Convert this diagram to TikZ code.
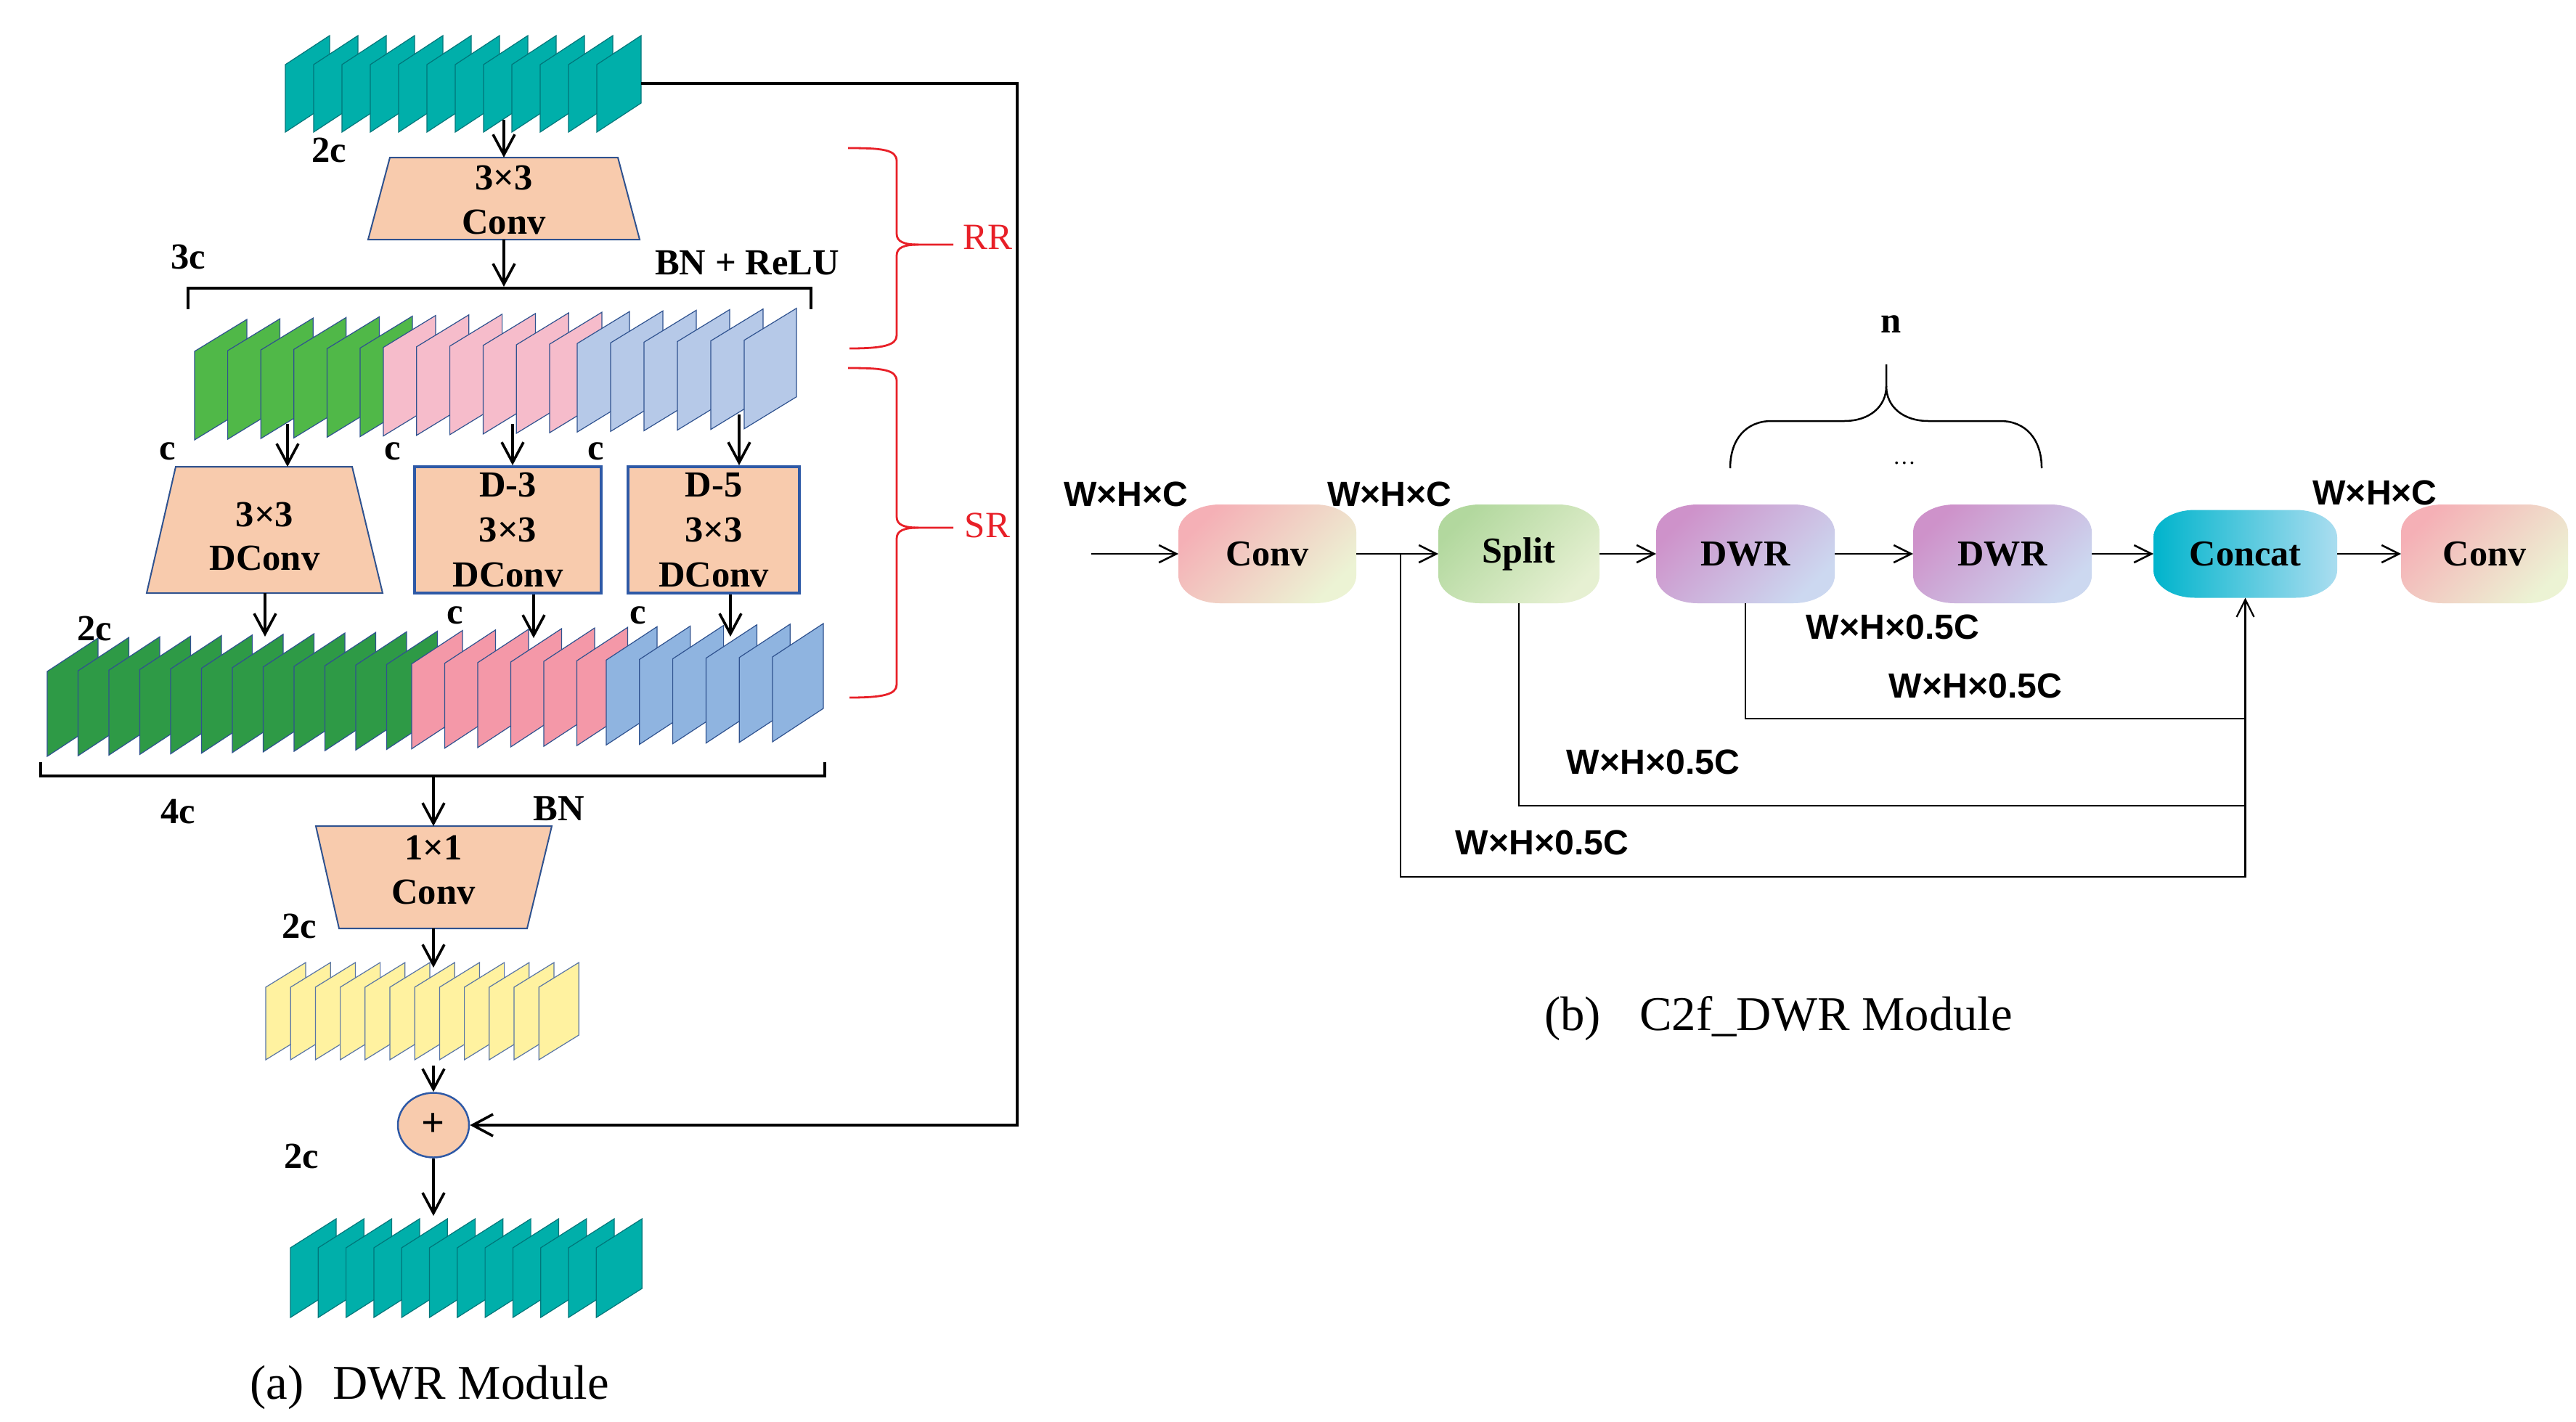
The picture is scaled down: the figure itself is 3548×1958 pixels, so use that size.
\documentclass[tikz,border=0pt]{standalone}
\usepackage{fontspec}
\setmainfont{Liberation Serif}
\newfontfamily\sansf{Liberation Sans}
\usetikzlibrary{arrows.meta,shapes.geometric}

\definecolor{peach}{RGB}{248,203,173}
\definecolor{navy}{RGB}{47,82,143}
\definecolor{boxblue}{RGB}{46,89,166}
\definecolor{tealF}{RGB}{0,175,170}
\definecolor{tealD}{RGB}{0,118,122}
\definecolor{grnA}{RGB}{80,184,72}
\definecolor{pnkA}{RGB}{246,188,203}
\definecolor{bluA}{RGB}{182,201,232}
\definecolor{grnB}{RGB}{46,154,70}
\definecolor{pnkB}{RGB}{244,152,168}
\definecolor{bluB}{RGB}{143,180,224}
\definecolor{yelF}{RGB}{255,242,160}
\definecolor{bracered}{RGB}{232,32,40}
\definecolor{cvA}{RGB}{245,176,182}
\definecolor{cvB}{RGB}{236,243,212}
\definecolor{spA}{RGB}{178,216,158}
\definecolor{spB}{RGB}{230,240,210}
\definecolor{dwA}{RGB}{206,146,202}
\definecolor{dwB}{RGB}{204,216,240}
\definecolor{caA}{RGB}{0,180,204}
\definecolor{caM}{RGB}{50,192,214}
\definecolor{caB}{RGB}{170,221,240}

\newcommand\sheetstack[9]{%
  \foreach \i in {1,...,#3} {%
    \pgfmathsetmacro\xx{#1+(\i-1)*#2}%
    \pgfmathsetmacro\yy{#4+(\i-1)*#5}%
    \path[#9] (\xx,\yy) -- ++(0,-#7) -- ++(#6,-#8) -- ++(0,#7) -- cycle;
  }}

% shaded pill with elliptical corners: cx cy halfwidth halfheight style
\newcommand\bpill[5]{%
 \shade[#5] ({#1-#3+57},{#2-#4}) -- ({#1+#3-57},{#2-#4})
   .. controls ({#1+#3-25.5},{#2-#4}) and ({#1+#3},{#2-#4+17}) .. ({#1+#3},{#2-#4+38})
   -- ({#1+#3},{#2+#4-38})
   .. controls ({#1+#3},{#2+#4-17}) and ({#1+#3-25.5},{#2+#4}) .. ({#1+#3-57},{#2+#4})
   -- ({#1-#3+57},{#2+#4})
   .. controls ({#1-#3+25.5},{#2+#4}) and ({#1-#3},{#2+#4-17}) .. ({#1-#3},{#2+#4-38})
   -- ({#1-#3},{#2-#4+38})
   .. controls ({#1-#3},{#2-#4+17}) and ({#1-#3+25.5},{#2-#4}) .. ({#1-#3+57},{#2-#4}) -- cycle;}

\tikzset{
  tealsheet/.style={fill=tealF, draw=tealD, line width=0.12mm},
  grnAs/.style={fill=grnA, draw=navy, line width=0.12mm},
  pnkAs/.style={fill=pnkA, draw=navy, line width=0.12mm},
  bluAs/.style={fill=bluA, draw=navy, line width=0.12mm},
  grnBs/.style={fill=grnB, draw=navy, line width=0.12mm},
  pnkBs/.style={fill=pnkB, draw=navy, line width=0.12mm},
  bluBs/.style={fill=bluB, draw=navy, line width=0.12mm},
  yels/.style={fill=yelF, draw=navy!80, line width=0.12mm},
  trap/.style={fill=peach, draw=navy, line width=0.2mm},
  lbl/.style={font=\fontsize{14.4}{17.2}\selectfont\bfseries, inner sep=0pt, outer sep=0pt},
  tbox/.style={inner sep=0pt, outer sep=0pt, draw=none},
  dbox/.style={fill=peach, draw=boxblue, line width=0.4mm, inner sep=0pt, align=center,
     font=\fontsize{14.4}{17.6}\selectfont\bfseries},
  arr/.style={-{Straight Barb[length=2.8mm,width=3mm]}, line width=0.36mm},
  brk/.style={line width=0.42mm},
  redbrace/.style={draw=bracered, line width=0.28mm},
  bnode/.style={minimum width=24.5mm, minimum height=13.5mm, outer sep=0pt,
     inner sep=0pt, font=\fontsize{14.3}{17}\selectfont\bfseries},
  arrb/.style={-{Straight Barb[length=2.4mm,width=2.4mm]}, line width=0.25mm},
  thinl/.style={line width=0.22mm},
  dimlbl/.style={font=\fontsize{13.7}{16}\sansf\bfseries, inner sep=0pt},
  captxt/.style={font=\fontsize{19}{22}\selectfont, inner sep=0pt}
}

\begin{document}
\begin{tikzpicture}[x=0.1mm,y=-0.1mm]
\useasboundingbox (0,0) rectangle (3548,1958);
\fill[white] (0,0) rectangle (3548,1958);

% ---------------- (a) DWR Module ----------------
% feature stacks
\sheetstack{393}{39}{12}{182}{0}{61}{93}{40}{tealsheet}
\sheetstack{268}{45.6}{6}{606}{-0.9}{72}{122}{44}{grnAs}
\sheetstack{528}{45.8}{6}{600.6}{-0.9}{72}{122}{44}{pnkAs}
\sheetstack{795}{46}{6}{595.2}{-0.9}{72}{122}{44}{bluAs}
\sheetstack{65}{42.5}{12}{1042}{-0.87}{70}{117}{46}{grnBs}
\sheetstack{567}{45.5}{6}{1031.6}{-0.87}{70}{117}{46}{pnkBs}
\sheetstack{835}{45.8}{6}{1026.3}{-0.87}{70}{117}{46}{bluBs}
\sheetstack{366}{34.2}{12}{1460}{0}{55}{100}{34}{yels}
\sheetstack{400}{38.3}{12}{1815}{0}{63}{96}{40}{tealsheet}

% trapezoid convolutions
\filldraw[trap] (507,330) -- (537,217) -- (851,217) -- (881,330) -- cycle;
\filldraw[trap] (202,817) -- (242,643) -- (485,643) -- (527,817) -- cycle;
\filldraw[trap] (467,1279) -- (435,1138) -- (760,1138) -- (726,1279) -- cycle;

\node[tbox, minimum width=37.4mm, minimum height=11.3mm,
  label={[lbl,align=center,yshift=-0.2mm]center:3×3\\Conv}] (conv33) at (694,273.5) {};
\node[tbox, minimum width=32.5mm, minimum height=17.4mm,
  label={[lbl,align=center,yshift=-0.9mm]center:3×3\\DConv}] (dconv) at (364.5,730) {};
\node[tbox, minimum width=32.5mm, minimum height=14.1mm,
  label={[lbl,align=center,yshift=1mm]center:1×1\\Conv}] (conv11) at (597,1208.5) {};

\node[dbox, minimum width=25.7mm, minimum height=17.4mm] (d3) at (699.5,730) {D-3\\3×3\\DConv};
\node[dbox, minimum width=23.6mm, minimum height=17.4mm] (d5) at (983,730) {D-5\\3×3\\DConv};

\node[ellipse, draw=boxblue, fill=peach, line width=0.25mm, minimum width=9.8mm,
  minimum height=8.9mm, inner sep=0pt, font=\fontsize{16}{17}\selectfont\bfseries] (plus) at (597,1550) {+};

% brackets
\draw[brk] (259,426) -- (259,397) -- (1117,397) -- (1117,426);
\draw[brk] (56,1050) -- (56,1069) -- (1136,1069) -- (1136,1050);

% coordinates
\coordinate (t1) at (694,165);
\coordinate (t2) at (883,115);
\coordinate (k1) at (1401,115);
\coordinate (k2) at (1401,1550);
\coordinate (b3c) at (694,395);
\coordinate (s1) at (396,584);
\coordinate (s2) at (706,584);
\coordinate (s3) at (1018,571);
\coordinate (e1) at (365,877);
\coordinate (e2) at (735,879);
\coordinate (e3) at (1006,877);
\coordinate (b4c) at (597,1069);
\coordinate (y1) at (597,1333);
\coordinate (y2) at (597,1468);
\coordinate (o1) at (597,1675);

% arrows
\draw[arr] (t1) -- (conv33.north);
\draw[arr] (conv33.south) -- (b3c);
\draw[arr] (s1) -- (s1 |- dconv.north);
\draw[arr] (s2) -- (s2 |- d3.north);
\draw[arr] (s3) -- (s3 |- d5.north);
\draw[arr] (e1 |- dconv.south) -- (e1);
\draw[arr] (e2 |- d3.south) -- (e2);
\draw[arr] (e3 |- d5.south) -- (e3);
\draw[arr] (b4c) -- (conv11.north);
\draw[arr] (conv11.south) -- (y1);
\draw[arr] (y2) -- (plus.north);
\draw[arr] (plus.south) -- (o1);
\draw[arr] (t2) -- (k1) -- (k2) -- (plus.east);

% labels
\node[lbl] at (453,207) {2c};
\node[lbl] at (259,354) {3c};
\node[lbl] at (1029,362) {BN + ReLU};
\node[lbl] at (231,622) {c};
\node[lbl] at (541,622) {c};
\node[lbl] at (821,622) {c};
\node[lbl] at (130,866) {2c};
\node[lbl] at (627,848) {c};
\node[lbl] at (879,848) {c};
\node[lbl] at (245,1118) {4c};
\node[lbl] at (770,1114) {BN};
\node[lbl] at (412,1276) {2c};
\node[lbl] at (415,1593) {2c};

% red braces
\draw[redbrace] (1168,204) .. controls (1215,204) and (1235,206) .. (1235,222) -- (1235,322)
   .. controls (1235,333) and (1245,337) .. (1265,337) -- (1313,337);
\draw[redbrace] (1170,480) .. controls (1215,480) and (1235,476) .. (1235,462) -- (1235,352)
   .. controls (1235,341) and (1245,337) .. (1265,337);
\draw[redbrace] (1168,507) .. controls (1215,507) and (1235,509) .. (1235,525) -- (1235,712)
   .. controls (1235,723) and (1245,727) .. (1265,727) -- (1313,727);
\draw[redbrace] (1170,961) .. controls (1215,961) and (1235,957) .. (1235,943) -- (1235,742)
   .. controls (1235,731) and (1245,727) .. (1265,727);
\node[font=\fontsize{14.5}{17}\selectfont, text=bracered, inner sep=0pt] (rr) at (1360,327) {RR};
\node[font=\fontsize{14.5}{17}\selectfont, text=bracered, inner sep=0pt] (sr) at (1360,724) {SR};

\node[captxt] (capa) at (591.5,1911) {(a)\hspace{0.6em}DWR Module};

% ---------------- (b) C2f_DWR Module ----------------
\bpill{1745.5}{763}{122.5}{68}{top color=cvA, bottom color=cvB, shading angle=45}
\bpill{2092}{763}{111}{68}{top color=spA, bottom color=spB, shading angle=45}
\bpill{2404}{763}{123}{68}{top color=dwA, bottom color=dwB, shading angle=45}
\bpill{2758}{763}{123}{68}{top color=dwA, bottom color=dwB, shading angle=45}
\bpill{3092.5}{763}{126.5}{60.5}{left color=caA, middle color=caM, right color=caB}
\bpill{3422}{763}{115}{68}{top color=cvA, bottom color=cvB, shading angle=45}

\node[bnode] (conv1) at (1745.5,763) {Conv};
\node[bnode, minimum width=22.2mm] (split) at (2092,763) {Split};
\node[bnode, minimum width=24.6mm] (dwr1) at (2404,763) {DWR};
\node[bnode, minimum width=24.6mm] (dwr2) at (2758,763) {DWR};
\node[bnode, minimum width=25.3mm, minimum height=12.1mm] (concat) at (3092.5,763) {Concat};
\node[bnode, minimum width=23mm] (conv2) at (3422,763) {Conv};

\coordinate (in) at (1503,763);
\coordinate (br) at (1929,763);
\coordinate (j1) at (3092.5,990);
\coordinate (j2) at (3092.5,1110);
\coordinate (j3) at (3092.5,1208);

\draw[arrb] (in) -- (conv1);
\draw[arrb] (conv1) -- (split);
\draw[arrb] (split) -- (dwr1);
\draw[arrb] (dwr1) -- (dwr2);
\draw[arrb] (dwr2) -- (concat);
\draw[arrb] (concat) -- (conv2);
\draw[thinl] (dwr1.south) |- (j1);
\draw[thinl] (split.south) |- (j2);
\draw[arrb, line width=0.22mm] (br) |- (j3) -- (concat.south);

% brace n
\draw[line width=0.25mm] (2383,645) .. controls (2383,605) and (2405,580) .. (2440,580) -- (2540,580)
   .. controls (2575,580) and (2598,560) .. (2598,532) -- (2598,502);
\draw[line width=0.25mm] (2812,645) .. controls (2812,605) and (2790,580) .. (2755,580) -- (2656,580)
   .. controls (2621,580) and (2598,560) .. (2598,532);
\node[font=\fontsize{14.4}{17}\selectfont\bfseries, inner sep=0pt] (nlab) at (2605,447) {n};
\node[font=\fontsize{9}{9}\selectfont, inner sep=0pt] (dots) at (2623,638) {\ldots};

% dimension labels
\node[dimlbl] at (1551,681) {W×H×C};
\node[dimlbl] at (1914,681) {W×H×C};
\node[dimlbl] at (3271,679) {W×H×C};
\node[dimlbl] at (2607,864) {W×H×0.5C};
\node[dimlbl] at (2721,945) {W×H×0.5C};
\node[dimlbl] at (2277,1050) {W×H×0.5C};
\node[dimlbl] at (2124,1161) {W×H×0.5C};

\node[captxt] (capb) at (2449.5,1403) {(b)\hspace{0.8em}C2f\_DWR Module};
\end{tikzpicture}
\end{document}
